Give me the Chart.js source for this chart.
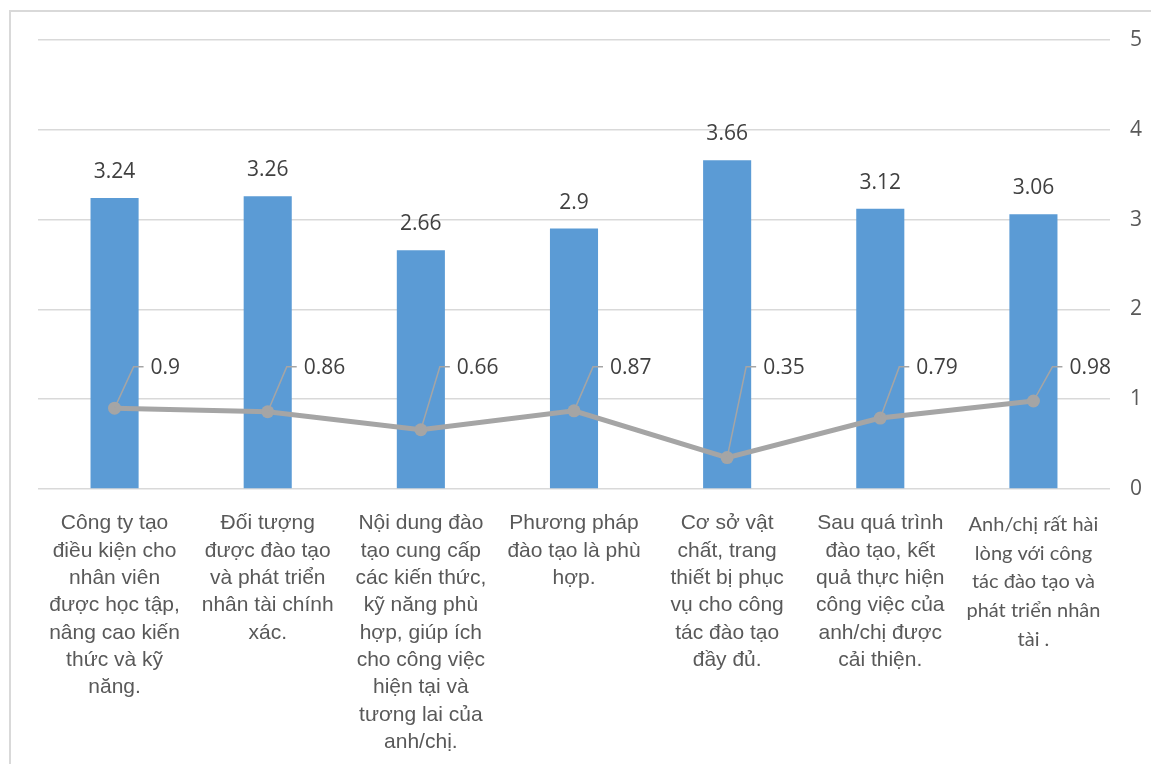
<!DOCTYPE html>
<html>
<head>
<meta charset="utf-8">
<script src="https://cdn.jsdelivr.net/npm/chart.js@4.4.1/dist/chart.umd.min.js"></script>
<style>
    html, body { margin: 0; padding: 0; background: #ffffff; overflow: hidden; }
    #wrap { position: relative; width: 1151px; height: 764px; }
    #frame {
        position: absolute; left: 9px; top: 10px; width: 1160px; height: 800px;
        border: 2px solid #d9d9d9; box-sizing: border-box;
    }
    canvas { position: absolute; left: 0; top: 0; }
</style>
</head>
<body>
<div id="wrap">
    <div id="frame"></div>
    <canvas id="chart" width="1151" height="764"></canvas>
</div>
<script>
// Category labels, already broken into lines
const categories = [
    ['Công ty tạo', 'điều kiện cho', 'nhân viên', 'được học tập,', 'nâng cao kiến', 'thức và kỹ', 'năng.'],
    ['Đối tượng', 'được đào tạo', 'và phát triển', 'nhân tài chính', 'xác.'],
    ['Nội dung đào', 'tạo cung cấp', 'các kiến thức,', 'kỹ năng phù', 'hợp, giúp ích', 'cho công việc', 'hiện tại và', 'tương lai của', 'anh/chị.'],
    ['Phương pháp', 'đào tạo là phù', 'hợp.'],
    ['Cơ sở vật', 'chất, trang', 'thiết bị phục', 'vụ cho công', 'tác đào tạo', 'đầy đủ.'],
    ['Sau quá trình', 'đào tạo, kết', 'quả thực hiện', 'công việc của', 'anh/chị được', 'cải thiện.'],
    ['Anh/chị rất hài', 'lòng với công', 'tác đào tạo và', 'phát triển nhân', 'tài .']
];
const meanValues = [3.24, 3.26, 2.66, 2.9, 3.66, 3.12, 3.06];
const sdValues = [0.9, 0.86, 0.66, 0.87, 0.35, 0.79, 0.98];
const yTicks = [0, 1, 2, 3, 4, 5];

const BAR_COLOR = '#5b9bd5';
const LINE_COLOR = '#a5a5a5';
const TEXT_COLOR = '#404040';
const AXIS_TEXT = '#595959';
const GRID_COLOR = '#d9d9d9';
const LABEL_FONT = "'Open Sans', 'DejaVu Sans', sans-serif";

// Value labels: above each bar, and callouts with leader lines for the line series
const valueLabels = {
    id: 'valueLabels',
    afterDatasetsDraw(chart) {
        const { ctx } = chart;
        const yScale = chart.scales.y;
        ctx.save();
        ctx.fillStyle = TEXT_COLOR;
        ctx.font = '21px ' + LABEL_FONT;
        ctx.textBaseline = 'middle';

        // bar values
        ctx.textAlign = 'center';
        const barMeta = chart.getDatasetMeta(0);
        meanValues.forEach((v, i) => {
            const bar = barMeta.data[i];
            ctx.fillText(String(v), bar.x, bar.y - 26);
        });

        // line values, all callouts sit on one level
        const calloutY = yScale.getPixelForValue(1.36);
        const lineMeta = chart.getDatasetMeta(1);
        ctx.textAlign = 'left';
        sdValues.forEach((v, i) => {
            const pt = lineMeta.data[i];
            const bendX = pt.x + 19;
            ctx.strokeStyle = LINE_COLOR;
            ctx.lineWidth = 1.5;
            ctx.beginPath();
            ctx.moveTo(pt.x, pt.y);
            ctx.lineTo(bendX, calloutY);
            ctx.lineTo(bendX + 10, calloutY);
            ctx.stroke();
            ctx.fillText(String(v), bendX + 17, calloutY + 1);
        });
        ctx.restore();
    }
};

new Chart(document.getElementById('chart').getContext('2d'), {
    type: 'bar',
    data: {
        labels: categories,
        datasets: [{
            type: 'bar',
            label: 'Giá trị trung bình',
            data: meanValues,
            backgroundColor: BAR_COLOR,
            barPercentage: 0.314,
            categoryPercentage: 1,
            order: 2
        }, {
            type: 'line',
            label: 'Độ lệch chuẩn',
            data: sdValues,
            borderColor: LINE_COLOR,
            backgroundColor: LINE_COLOR,
            borderWidth: 5,
            pointRadius: 6.5,
            pointBackgroundColor: LINE_COLOR,
            pointBorderWidth: 0,
            tension: 0,
            order: 1
        }]
    },
    options: {
        responsive: false,
        animation: false,
        layout: { padding: { left: 38, top: 40, right: 0, bottom: 0 } },
        plugins: {
            legend: { display: false },
            tooltip: { enabled: false }
        },
        scales: {
            x: {
                grid: { display: false },
                border: { display: false },
                afterFit(scale) { scale.height = 275; },
                ticks: {
                    autoSkip: false,
                    maxRotation: 0,
                    minRotation: 0,
                    padding: 13,
                    color: AXIS_TEXT,
                    font: ctx => ctx.index === 6
                        ? { family: "Lato, 'Open Sans', sans-serif", size: 20, lineHeight: 1.44 }
                        : { family: "'Liberation Sans', Arial, sans-serif", size: 21, lineHeight: 1.3 }
                }
            },
            y: {
                position: 'right',
                min: 0,
                max: 5,
                afterFit(scale) { scale.width = 41; },
                afterBuildTicks(scale) { scale.ticks = yTicks.map(v => ({ value: v })); },
                grid: { color: GRID_COLOR, lineWidth: 1.5, drawTicks: false },
                border: { display: false },
                ticks: {
                    padding: 20,
                    color: AXIS_TEXT,
                    font: { family: LABEL_FONT, size: 21 }
                }
            }
        }
    },
    plugins: [valueLabels]
});
</script>
</body>
</html>
